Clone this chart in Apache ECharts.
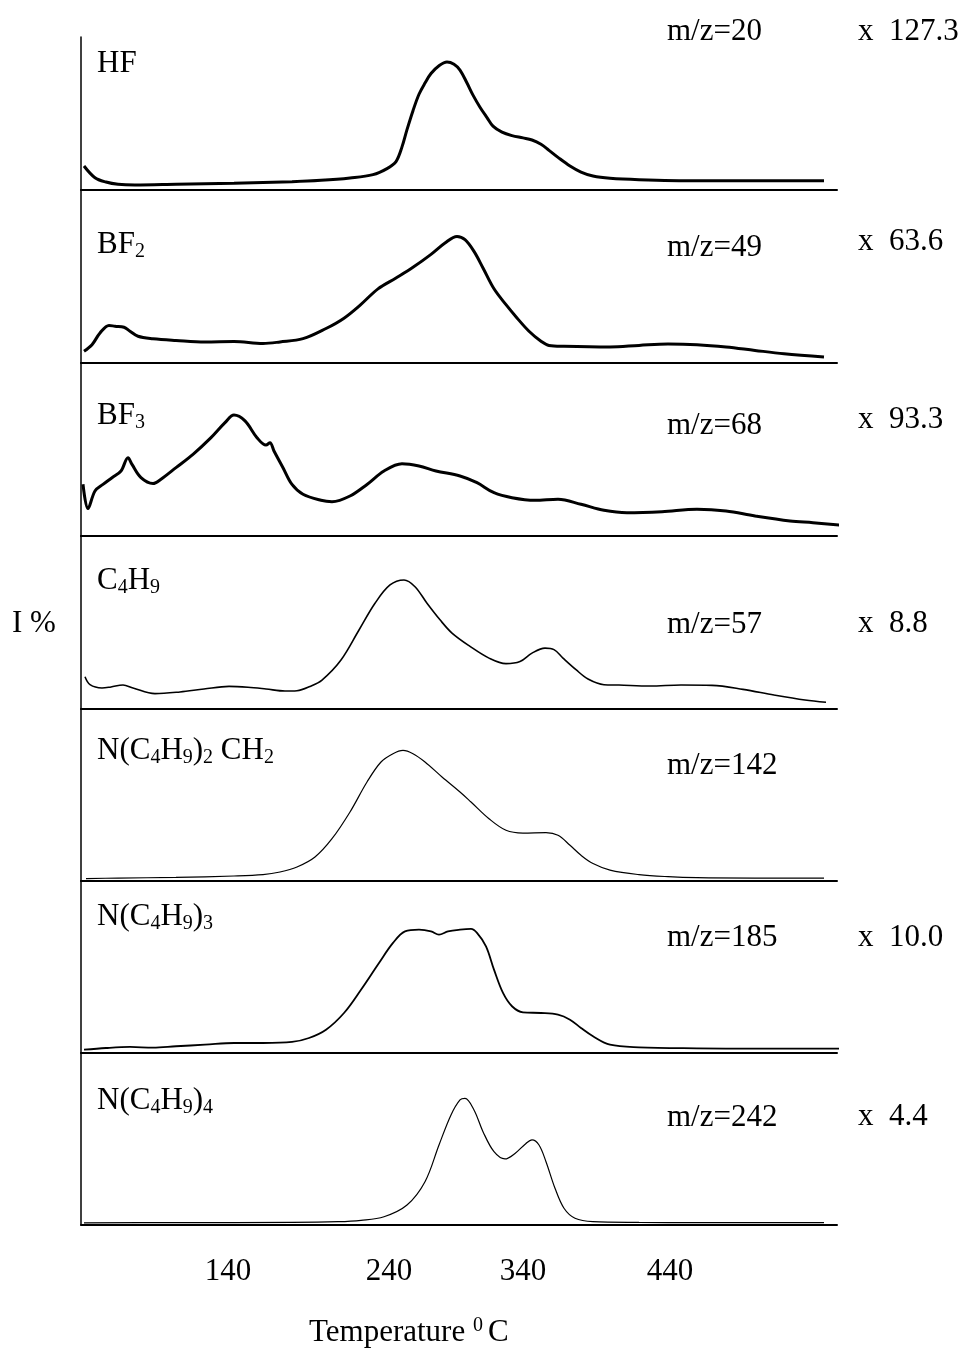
<!DOCTYPE html>
<html>
<head>
<meta charset="utf-8">
<script src="https://cdn.jsdelivr.net/npm/echarts@6.0.0/dist/echarts.min.js"></script>
<style>
  html, body { margin: 0; padding: 0; background: #fff; }
  #chart { width: 966px; height: 1348px; }
</style>
</head>
<body>
<div id="chart"></div>
<script>
  // x = scan channel (0 at the intensity axis); temperature labels sit at these channels
  const tickChannels = [148, 309, 443, 590];
  const tickLabels = ['140', '240', '340', '440'];

  // y = I % of the panel height
  const hfData = [[4,13.9],[15,7.1],[26,4.6],[38,3.3],[55,2.9],[96,3.3],[154,3.9],[212,4.8],[241,5.6],[270,7.0],[293,8.9],[307,12.4],[316,16.5],[322,25],[327,35],[333,46],[339,55.5],[345,62],[351,67.5],[359,72],[367,74.2],[374,72.9],[380,69.5],[387,62],[393,55],[400,48],[407,42],[413,37],[422,33.5],[432,31.5],[443,30.2],[452,29],[461,26.5],[469,23],[478,18.9],[490,13.9],[501,10.4],[513,8.1],[530,6.8],[559,6.0],[617,5.4],[675,5.4],[744,5.4]];
  const bf2Data = [[4,6.8],[12,10.6],[20,17.4],[29,21.8],[35,21.3],[44,20.7],[50,18.4],[58,15.5],[73,14.1],[96,13.1],[125,12.2],[154,12.4],[183,11.3],[200,12.2],[223,14.1],[246,20],[264,26],[281,34],[298,43],[316,49.3],[333,55.5],[351,63],[365,69.6],[377,73.4],[385,71.5],[394,64.7],[403,55.1],[414,43],[426,33.8],[437,26.1],[449,18.4],[461,12.6],[469,10.2],[484,9.7],[530,9.3],[559,10.2],[588,11.0],[617,10.6],[646,9.3],[675,7.3],[704,5.4],[744,3.5]];
  const bf3Data = [[3,30],[8,15.9],[15,26.1],[23,29.9],[32,33.8],[41,37.7],[48,45.4],[52,41.5],[61,33.8],[73,30.4],[81,32.9],[96,39.6],[113,47.3],[131,57.0],[145,65.7],[154,70.1],[165,66.7],[177,57.0],[186,52.7],[190,54.1],[194,49.3],[203,39.6],[212,29.9],[223,24.2],[241,20.7],[252,19.9],[270,23.2],[287,29.9],[304,37.7],[322,41.9],[339,40.6],[356,37.7],[380,34.8],[397,30.9],[414,25.1],[432,22.2],[455,20.7],[478,21.3],[501,18.4],[524,14.9],[547,13.5],[582,14.1],[617,15.5],[646,14.5],[675,11.6],[710,8.7],[733,7.7],[762,6.2]];
  const c4h9Data = [[5,18.7],[10,14.1],[22,12.2],[31,12.8],[43,13.9],[53,12.2],[75,8.9],[100,9.9],[124,11.6],[149,13.1],[168,12.6],[186,11.6],[205,10.4],[217,10.6],[230,13.1],[242,16.8],[261,28.4],[279,45.8],[295,61.3],[310,71.9],[324,74.8],[335,70.9],[347,61.3],[360,51.7],[372,44.0],[390,36.3],[409,29.5],[426,26.3],[440,27.5],[452,32.4],[465,35.3],[474,34.4],[483,29.5],[496,22.8],[508,17.4],[524,14.1],[539,13.9],[570,13.3],[601,13.9],[632,13.7],[663,11.4],[694,8.1],[725,5.2],[746,3.9]];
  const nbu2ch2Data = [[6,1.4],[38,1.7],[96,2.1],[154,2.9],[183,3.7],[200,5.2],[217,8.1],[235,13.9],[252,24.5],[270,40.0],[287,57.4],[301,69.0],[313,73.8],[323,75.7],[333,73.8],[345,69.0],[362,60.3],[380,51.6],[391,45.8],[409,36.1],[426,29.4],[443,27.8],[466,28.0],[478,26.5],[490,20.7],[501,14.9],[513,10.1],[530,6.3],[559,3.7],[588,2.5],[617,1.9],[675,1.7],[744,1.7]];
  const nbu3Data = [[4,1.9],[26,2.9],[50,3.5],[73,3.1],[96,3.9],[125,4.8],[154,5.8],[183,5.8],[212,6.4],[229,8.7],[246,13.5],[264,23.2],[281,36.7],[299,52.2],[313,63.8],[325,70.5],[339,71.5],[351,70.5],[359,68.6],[368,70.5],[380,71.5],[391,71.9],[397,69.6],[406,61.8],[414,48.3],[423,34.8],[432,27.1],[443,23.6],[461,23.2],[478,22.2],[490,19.3],[501,14.5],[513,9.7],[530,4.8],[559,3.3],[617,2.7],[675,2.5],[762,2.5]];
  const nbu4Data = [[4,1.2],[96,1.4],[212,1.5],[258,1.9],[281,2.7],[304,4.8],[327,11.6],[345,25.1],[359,46.4],[371,63.8],[380,72.5],[385,73.4],[394,66.7],[403,54.1],[414,42.5],[425,38.3],[435,41.5],[446,47.3],[452,49.3],[459,46.4],[466,36.7],[475,21.3],[484,9.7],[495,3.9],[513,1.9],[559,1.5],[617,1.4],[744,1.4]];

  const speciesLabels = [
    '{n|HF}',
    '{n|BF}{s|2}',
    '{n|BF}{s|3}',
    '{n|C}{s|4}{n|H}{s|9}',
    '{n|N(C}{s|4}{n|H}{s|9}{n|)}{s|2}{n| CH}{s|2}',
    '{n|N(C}{s|4}{n|H}{s|9}{n|)}{s|3}',
    '{n|N(C}{s|4}{n|H}{s|9}{n|)}{s|4}'
  ];
  const mzLabels = ['m/z=20', 'm/z=49', 'm/z=68', 'm/z=57', 'm/z=142', 'm/z=185', 'm/z=242'];
  const scaleLabels = ['x  127.3', 'x  63.6', 'x  93.3', 'x  8.8', '', 'x  10.0', 'x  4.4'];
  const seriesData = [hfData, bf2Data, bf3Data, c4h9Data, nbu2ch2Data, nbu3Data, nbu4Data];

  // layout
  const FONT = '"Liberation Serif", "Times New Roman", serif';
  const panelTop = [37, 190, 363, 536, 709, 881, 1053];
  const panelBottom = [190, 363, 536, 709, 881, 1053, 1225];
  const pxPerUnit = 1.725;
  const lineWidths = [3, 3, 3, 1.6, 1.2, 1.8, 1.2];
  const speciesY = [64, 246, 417, 582, 752, 918, 1102];
  const mzY = [32, 248, 426, 625, 766, 938, 1118];
  const scaleY = [32, 242, 420, 624, 0, 938, 1117];

  const rich = {
    n: { fontFamily: FONT, fontSize: 31, lineHeight: 34, color: '#000' },
    s: { fontFamily: FONT, fontSize: 20, lineHeight: 20, padding: [16, 0, 0, 0], verticalAlign: 'bottom', color: '#000' },
    p: { fontFamily: FONT, fontSize: 20, lineHeight: 20, verticalAlign: 'top', color: '#000' }
  };

  function textTitle(text, left, cy) {
    var tall = text.indexOf('{s|') >= 0;
    return {
      text: text, left: left, top: cy - (tall ? 18 : 17), padding: 0,
      textStyle: { fontFamily: FONT, fontSize: 31, fontWeight: 'normal', color: '#000', rich: rich }
    };
  }

  const titles = [];
  speciesLabels.forEach(function (t, i) { titles.push(textTitle(t, 97, speciesY[i])); });
  mzLabels.forEach(function (t, i) { titles.push(textTitle('{n|' + t + '}', 667, mzY[i])); });
  scaleLabels.forEach(function (t, i) { if (t) titles.push(textTitle('{n|' + t + '}', 858, scaleY[i])); });
  titles.push(textTitle('{n|I %}', 12, 624));
  titles.push(textTitle('{n|Temperature }{p|0 }{n|C}', 309, 1333));

  const last = panelTop.length - 1;
  const option = {
    backgroundColor: '#fff',
    animation: false,
    title: titles,
    grid: panelTop.map(function (t, i) {
      return { left: 81, width: 756, top: t, height: panelBottom[i] - t };
    }),
    xAxis: panelTop.map(function (t, i) {
      return {
        type: 'value', gridIndex: i, min: 1, max: 757,
        axisLine: { show: true, onZero: false, lineStyle: { color: '#000', width: 2 } },
        axisTick: { show: false },
        splitLine: { show: false },
        axisLabel: i === last ? {
          show: true, customValues: tickChannels, margin: 31,
          fontFamily: FONT, fontSize: 31, color: '#000',
          formatter: function (v) {
            var k = tickChannels.indexOf(v);
            return k >= 0 ? tickLabels[k] : '';
          }
        } : { show: false }
      };
    }),
    yAxis: panelTop.map(function (t, i) {
      return {
        type: 'value', gridIndex: i, min: 0, max: (panelBottom[i] - t) / pxPerUnit,
        axisLine: { show: true, onZero: false, lineStyle: { color: '#000', width: 1.5 } },
        axisTick: { show: false },
        axisLabel: { show: false },
        splitLine: { show: false }
      };
    }),
    series: seriesData.map(function (d, i) {
      return {
        type: 'line', xAxisIndex: i, yAxisIndex: i, data: d,
        showSymbol: false, smooth: 0.35, clip: false,
        lineStyle: { color: '#000', width: lineWidths[i] }
      };
    })
  };

  const chart = echarts.init(document.getElementById('chart'));
  chart.setOption(option);
</script>
</body>
</html>
